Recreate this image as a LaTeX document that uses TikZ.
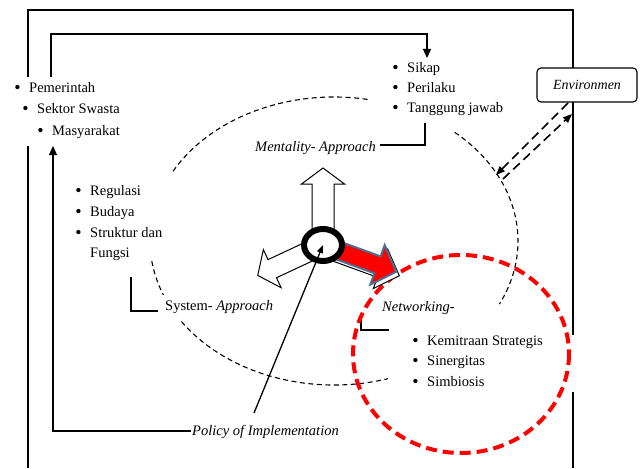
\documentclass[tikz,border=0pt]{standalone}
\usepackage{fontspec}
\setmainfont{Liberation Serif}
\usetikzlibrary{arrows.meta}
\newcommand\bul{\llap{\raisebox{-0.6pt}{\fontsize{18}{18}\selectfont\textbullet}\hspace{8.5pt}}}
% center, angle, length, head length, shaft half width, head half width, style
\newcommand\hubarrow[7]{%
\begin{scope}[shift={#1}, rotate=#2]
\draw[#7] (0,-#5) -- (#3-#4,-#5) -- (#3-#4,-#6) -- (#3,0) -- (#3-#4,#6) -- (#3-#4,#5) -- (0,#5) -- cycle;
\end{scope}}
\begin{document}
\begin{tikzpicture}[x=1pt,y=-1pt,
 txt/.style={font=\fontsize{14.5}{17}\selectfont, inner sep=0pt, anchor=base west},
 itx/.style={font=\fontsize{14.5}{17}\selectfont\itshape, inner sep=0pt, anchor=base west},
 ln/.style={line width=1.3pt},
 arr/.style={ln, -{Triangle[length=9pt,width=8pt]}},
 dsh/.style={line width=1.1pt, dash pattern=on 5pt off 3.5pt},
 envd/.style={line width=1.6pt, dash pattern=on 9pt off 5pt, -{Triangle[length=9pt,width=7pt]}},
 wbig/.style={fill=white, draw=black, line width=1pt, line join=miter},
 rbig/.style={fill=red, draw={rgb,255:red,79;green,109;blue,145}, line width=2pt, line join=miter},
]
\useasboundingbox (0,0) rectangle (644,468);

% ---------- text nodes ----------
\node[txt] (pem) at (29,92.5) {\bul Pemerintah};
\node[txt] (swa) at (37,113.5) {\bul Sektor Swasta};
\node[txt] (mas) at (52,135.5) {\bul Masyarakat};

\node[txt] (sik) at (407,72.5) {\bul Sikap};
\node[txt] (per) at (407,92.5) {\bul Perilaku};
\node[txt] (tan) at (407,112.5) {\bul Tanggung jawab};

\node[txt] (reg) at (90,195.5) {\bul Regulasi};
\node[txt] (bud) at (90,216.5) {\bul Budaya};
\node[txt] (str) at (90,237.5) {\bul Struktur dan};
\node[txt] (fun) at (90,257.5) {Fungsi};

\node[txt] (kem) at (427,345.5) {\bul Kemitraan Strategis};
\node[txt] (sin) at (427,365.5) {\bul Sinergitas};
\node[txt] (sim) at (427,386.5) {\bul Simbiosis};

\node[itx] (ment) at (255,151.5) {Mentality- Approach};
\node[txt] (sys) at (165,310.5) {System- \textit{Approach}};
\node[itx] (net) at (382,311.5) {Networking-};
\node[itx] (pol) at (192,435.5) {Policy of Implementation};

% ---------- outer frame ----------
\coordinate (o1) at (28,77);
\coordinate (o2) at (28,10);
\coordinate (o3) at (573,10);
\coordinate (o4) at (573,335);
\coordinate (o5) at (573,392);
\coordinate (o6) at (573,468);
\coordinate (o7) at (28,146);
\coordinate (o8) at (28,468);
\draw[line width=1.5pt] (o1) -- (o2) -- (o3) -- (o4);
\draw[line width=1.5pt] (o5) -- (o6);
\draw[line width=1.5pt] (o7) -- (o8);

\node[draw, fill=white, rounded corners=4pt, line width=1.1pt, minimum width=100pt, minimum height=34pt,
      inner sep=0pt, font=\fontsize{14}{16}\selectfont\itshape] (env) at (587,85) {Environmen};

% ---------- inner loop ----------
\coordinate (i1) at (51,77);
\coordinate (i2) at (51,34);
\coordinate (i3) at (427,34);
\coordinate (i4) at (427,58);
\draw[arr] (i1) -- (i2) -- (i3) -- (i4);
\coordinate (p1) at (191,431);
\coordinate (p2) at (53,431);
\coordinate (p3) at (53,146);
\draw[arr] (p1) -- (p2) -- (p3);

% ---------- brackets ----------
\coordinate (m1) at (380,145);
\coordinate (m2) at (425,145);
\coordinate (m3) at (425,123);
\draw[ln] (m1) -- (m2) -- (m3);
\coordinate (s1) at (131,277);
\coordinate (s2) at (131,311);
\coordinate (s3) at (158,311);
\draw[ln] (s1) -- (s2) -- (s3);
\coordinate (n1) at (361,317);
\coordinate (n2) at (361,330);
\coordinate (n3) at (389,330);
\draw[ln] (n1) -- (n2) -- (n3);

% ---------- big dashed ellipse (in arcs) ----------
\coordinate (ec) at (334,241);
\draw[dsh] (ec) ++(209:184 and 144) arc[start angle=209, end angle=281, x radius=184, y radius=144];
\draw[dsh] (ec) ++(311:184 and 144) arc[start angle=311, end angle=386, x radius=184, y radius=144];
\draw[dsh] (ec) ++(172:184 and 144) arc[start angle=172, end angle=158, x radius=184, y radius=144];
\draw[dsh] (ec) ++(146:184 and 144) arc[start angle=146, end angle=73, x radius=184, y radius=144];

% ---------- red dashed circle ----------
\draw[red, line width=4pt, dash pattern=on 11pt off 6pt] (461,354) ellipse[x radius=108, y radius=99];

% ---------- environment dashed arrows ----------
\coordinate (ea1) at (568,103);
\coordinate (ea2) at (496,175);
\coordinate (eb1) at (503,179);
\coordinate (eb2) at (572,114);
\draw[envd] (ea1) -- (ea2);
\draw[envd] (eb1) -- (eb2);

% ---------- hub with arrows ----------
\hubarrow{(326,249)}{-20}{78}{20}{9}{21}{wbig}
\hubarrow{(323,245)}{-20}{78}{20}{9}{21}{rbig}
\hubarrow{(323,245)}{90}{77}{16}{11}{21.5}{wbig}
\hubarrow{(323,245)}{-155}{72}{16}{10}{21}{wbig}
\draw[line width=6pt, fill=white] (323,245) ellipse[x radius=19, y radius=16];
\node[inner sep=0pt, minimum size=1pt] (hub) at (323,245) {};

% ---------- policy arrow ----------
\coordinate (pa) at (254,413);
\draw[line width=1.3pt, -{Triangle[length=8pt,width=6pt]}] (pa) -- (hub.center);
\end{tikzpicture}
\end{document}
